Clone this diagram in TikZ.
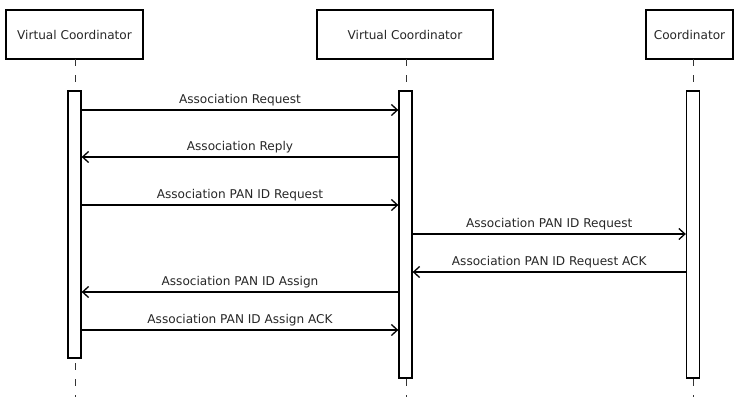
\documentclass[tikz,border=0pt]{standalone}
\usepackage{fontspec}
\setmainfont{DejaVu Sans}
\usetikzlibrary{arrows.meta}
\begin{document}
\begin{tikzpicture}[x=1pt,y=-1pt,
  actor/.style={draw=black, line width=1.4pt, minimum height=49pt, inner sep=0pt, font=\fontsize{12.1}{14}\selectfont, text=black!85},
  life/.style={draw=black!80, line width=0.9pt, dash pattern=on 7pt off 9pt},
  bar/.style={draw=black, line width=1.3pt, fill=white},
  msg/.style={draw=black, line width=1.3pt, -{Straight Barb[length=6pt,width=11pt,line width=1.3pt]}},
  lbl/.style={font=\fontsize{12.1}{14}\selectfont, text=black!85, inner sep=1pt, above=2pt}]
\useasboundingbox (0,0) rectangle (734,397);
% actors
\node[actor, minimum width=137pt] (a1) at (74.5,34.5) {Virtual Coordinator};
\node[actor, minimum width=176pt] (a2) at (405,34.5) {Virtual Coordinator};
\node[actor, minimum width=87pt] (a3) at (689.5,34.5) {Coordinator};
% lifeline coordinates
\coordinate (l1t) at (75,59);  \coordinate (l1b) at (75,397);
\coordinate (l2t) at (406,59); \coordinate (l2b) at (406,397);
\coordinate (l3t) at (693,59); \coordinate (l3b) at (693,397);
\draw[life] (l1t) -- (l1b);
\draw[life] (l2t) -- (l2b);
\draw[life] (l3t) -- (l3b);
% activation bars
\node[bar, minimum width=13pt, minimum height=267pt, inner sep=0pt] (b1) at (74.5,224.5) {};
\node[bar, minimum width=13pt, minimum height=287pt, inner sep=0pt] (b2) at (405.5,234.5) {};
\node[bar, minimum width=13pt, minimum height=287pt, inner sep=0pt] (b3) at (693,234.5) {};
% messages
\draw[msg] (b1.east |- 0,110) -- node[lbl] {Association Request} (b2.west |- 0,110);
\draw[msg] (b2.west |- 0,157) -- node[lbl] {Association Reply} (b1.east |- 0,157);
\draw[msg] (b1.east |- 0,205) -- node[lbl] {Association PAN ID Request} (b2.west |- 0,205);
\draw[msg] (b2.east |- 0,234) -- node[lbl] {Association PAN ID Request} (b3.west |- 0,234);
\draw[msg] (b3.west |- 0,272) -- node[lbl] {Association PAN ID Request ACK} (b2.east |- 0,272);
\draw[msg] (b2.west |- 0,292) -- node[lbl] {Association PAN ID Assign} (b1.east |- 0,292);
\draw[msg] (b1.east |- 0,330) -- node[lbl] {Association PAN ID Assign ACK} (b2.west |- 0,330);
\end{tikzpicture}
\end{document}
